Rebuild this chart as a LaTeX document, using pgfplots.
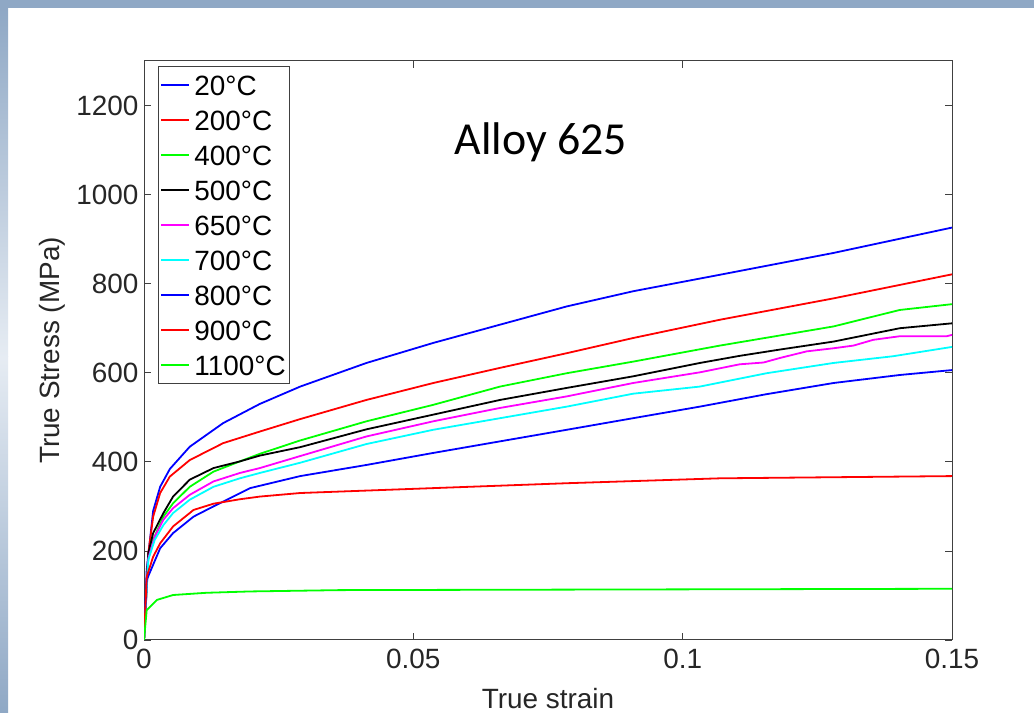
\documentclass[border=0pt]{standalone}
\usepackage{fontspec}
\setmainfont{Liberation Sans}
\newfontfamily\calibri{Carlito}
\usepackage{pgfplots}
\pgfplotsset{compat=1.18}
\definecolor{band}{HTML}{8FA8C5}
\definecolor{bandlight}{HTML}{E6ECF3}
\definecolor{axc}{HTML}{404040}
\definecolor{txt}{HTML}{262626}
\definecolor{mblue}{HTML}{0000FF}
\definecolor{mred}{HTML}{FF0000}
\definecolor{mgreen}{HTML}{00FF00}
\definecolor{mmag}{HTML}{FF00FF}
\definecolor{mcyan}{HTML}{00FFFF}

\begin{document}
\begin{tikzpicture}[x=1bp,y=1bp]
\path[use as bounding box] (0,0) rectangle (1034,713);
\fill[white] (0,0) rectangle (1034,713);
\fill[band] (0,705) rectangle (1034,713);
\shade[top color=band, bottom color=bandlight] (0,356) rectangle (8,705);
\shade[top color=bandlight, bottom color=band] (0,0) rectangle (8,356);
\begin{axis}[
  at={(144bp,73bp)}, anchor=south west,
  scale only axis, width=808bp, height=579bp,
  xmin=0, xmax=0.15, ymin=0, ymax=1300,
  xtick={0,0.05,0.1,0.15}, xticklabels={0,0.05,0.1,0.15},
  ytick={0,200,400,600,800,1000,1200},
  yticklabels={0,200,400,600,800,1000,1200},
  tick align=inside, major tick length=7bp,
  axis line style={axc, line width=1bp},
  tick style={axc, line width=0.8bp},
  ticklabel style={font=\fontsize{28}{28}\selectfont, text=txt},
  xticklabel style={yshift=-6bp},
  yticklabel style={xshift=-2bp},
  xlabel={True strain}, ylabel={True Stress (MPa)},
  every axis x label/.style={at={(axis description cs:0.5,-0.119)}, anchor=base,
    font=\fontsize{28}{28}\selectfont, text=txt},
  every axis y label/.style={at={(axis description cs:-0.114,0.5)}, rotate=90, anchor=center,
    font=\fontsize{28}{28}\selectfont, text=txt},
  legend cell align=left,
  legend image code/.code={\draw[#1, line width=1.5bp] (0bp,0bp) -- (28bp,0bp);},
  legend style={at={(rel axis cs:0.0173,0.991)}, anchor=north west,
    draw=axc, line width=0.8bp, fill=white,
    font=\fontsize{28}{28}\selectfont,
    inner xsep=2bp, inner ysep=5bp, row sep=8bp,
    nodes={inner sep=1.5bp, text height=22bp, text depth=2bp},
    /tikz/every odd column/.append style={column sep=3bp}},
  every axis plot/.append style={line width=1.8bp, line join=round},
]
\addplot[mblue] coordinates {(0,0) (0.0005,157) (0.0017,290) (0.003,344) (0.0048,384) (0.0085,434) (0.0147,487) (0.0215,530) (0.029,569) (0.0413,622) (0.0537,667) (0.0661,708) (0.0785,749) (0.0908,783) (0.1069,820) (0.128,869) (0.15,926)};
\addlegendentry{20°C}
\addplot[mred] coordinates {(0,0) (0.0008,195) (0.0017,277) (0.003,330) (0.0048,367) (0.0085,404) (0.0147,442) (0.0215,468) (0.029,496) (0.0413,539) (0.0537,577) (0.0661,611) (0.0785,644) (0.0908,678) (0.1069,719) (0.128,767) (0.15,821)};
\addlegendentry{200°C}
\addplot[mgreen] coordinates {(0,0) (0.0008,187) (0.0017,225) (0.0036,277) (0.0054,307) (0.0085,344) (0.0129,378) (0.0178,401) (0.0215,418) (0.029,448) (0.0413,491) (0.0537,528) (0.0661,569) (0.0785,599) (0.0908,625) (0.1069,661) (0.128,704) (0.1403,741) (0.15,754)};
\addlegendentry{400°C}
\addplot[black] coordinates {(0,0) (0.0008,195) (0.0017,240) (0.0036,285) (0.0054,322) (0.0085,360) (0.0129,386) (0.0178,401) (0.0215,414) (0.029,433) (0.0413,473) (0.0537,506) (0.0661,539) (0.0785,566) (0.0908,592) (0.1032,622) (0.1106,638) (0.118,652) (0.128,670) (0.1403,700) (0.15,711)};
\addlegendentry{500°C}
\addplot[mmag] coordinates {(0,0) (0.0008,184) (0.002,232) (0.0036,270) (0.0054,296) (0.0085,326) (0.0129,356) (0.0178,375) (0.0215,386) (0.029,413) (0.0413,457) (0.0537,491) (0.0661,521) (0.0785,547) (0.0908,577) (0.1032,601) (0.1106,619) (0.115,623) (0.118,633) (0.123,648) (0.128,655) (0.1317,661) (0.1354,674) (0.1403,682) (0.149,682) (0.15,685)};
\addlegendentry{650°C}
\addplot[mcyan] coordinates {(0,0) (0.0008,180) (0.002,225) (0.0036,258) (0.0054,285) (0.0085,315) (0.0129,344) (0.0178,363) (0.0215,375) (0.029,398) (0.0413,440) (0.0537,472) (0.0661,498) (0.0785,524) (0.0908,553) (0.1032,569) (0.1156,599) (0.128,622) (0.139,637) (0.15,658)};
\addlegendentry{700°C}
\addplot[mblue] coordinates {(0,0) (0.0005,135) (0.003,206) (0.0054,240) (0.0092,277) (0.0129,300) (0.0197,341) (0.029,368) (0.0413,393) (0.0537,420) (0.0661,446) (0.0785,472) (0.0908,498) (0.1032,524) (0.1156,552) (0.128,577) (0.1403,595) (0.15,606)};
\addlegendentry{800°C}
\addplot[mred] coordinates {(0,0) (0.0005,142) (0.0017,187) (0.003,217) (0.0054,255) (0.0092,292) (0.0129,306) (0.0178,316) (0.0215,322) (0.029,330) (0.0537,341) (0.0785,352) (0.1069,363) (0.15,368)};
\addlegendentry{900°C}
\addplot[mgreen] coordinates {(0,0) (0.0005,67) (0.0024,90) (0.0054,101) (0.0116,106) (0.0197,109) (0.0364,112) (0.15,115)};
\addlegendentry{1100°C}
\node[font=\calibri\fontsize{46}{46}\selectfont, anchor=base] at (axis cs:0.0737,1090) {Alloy 625};
\end{axis}
\end{tikzpicture}
\end{document}
